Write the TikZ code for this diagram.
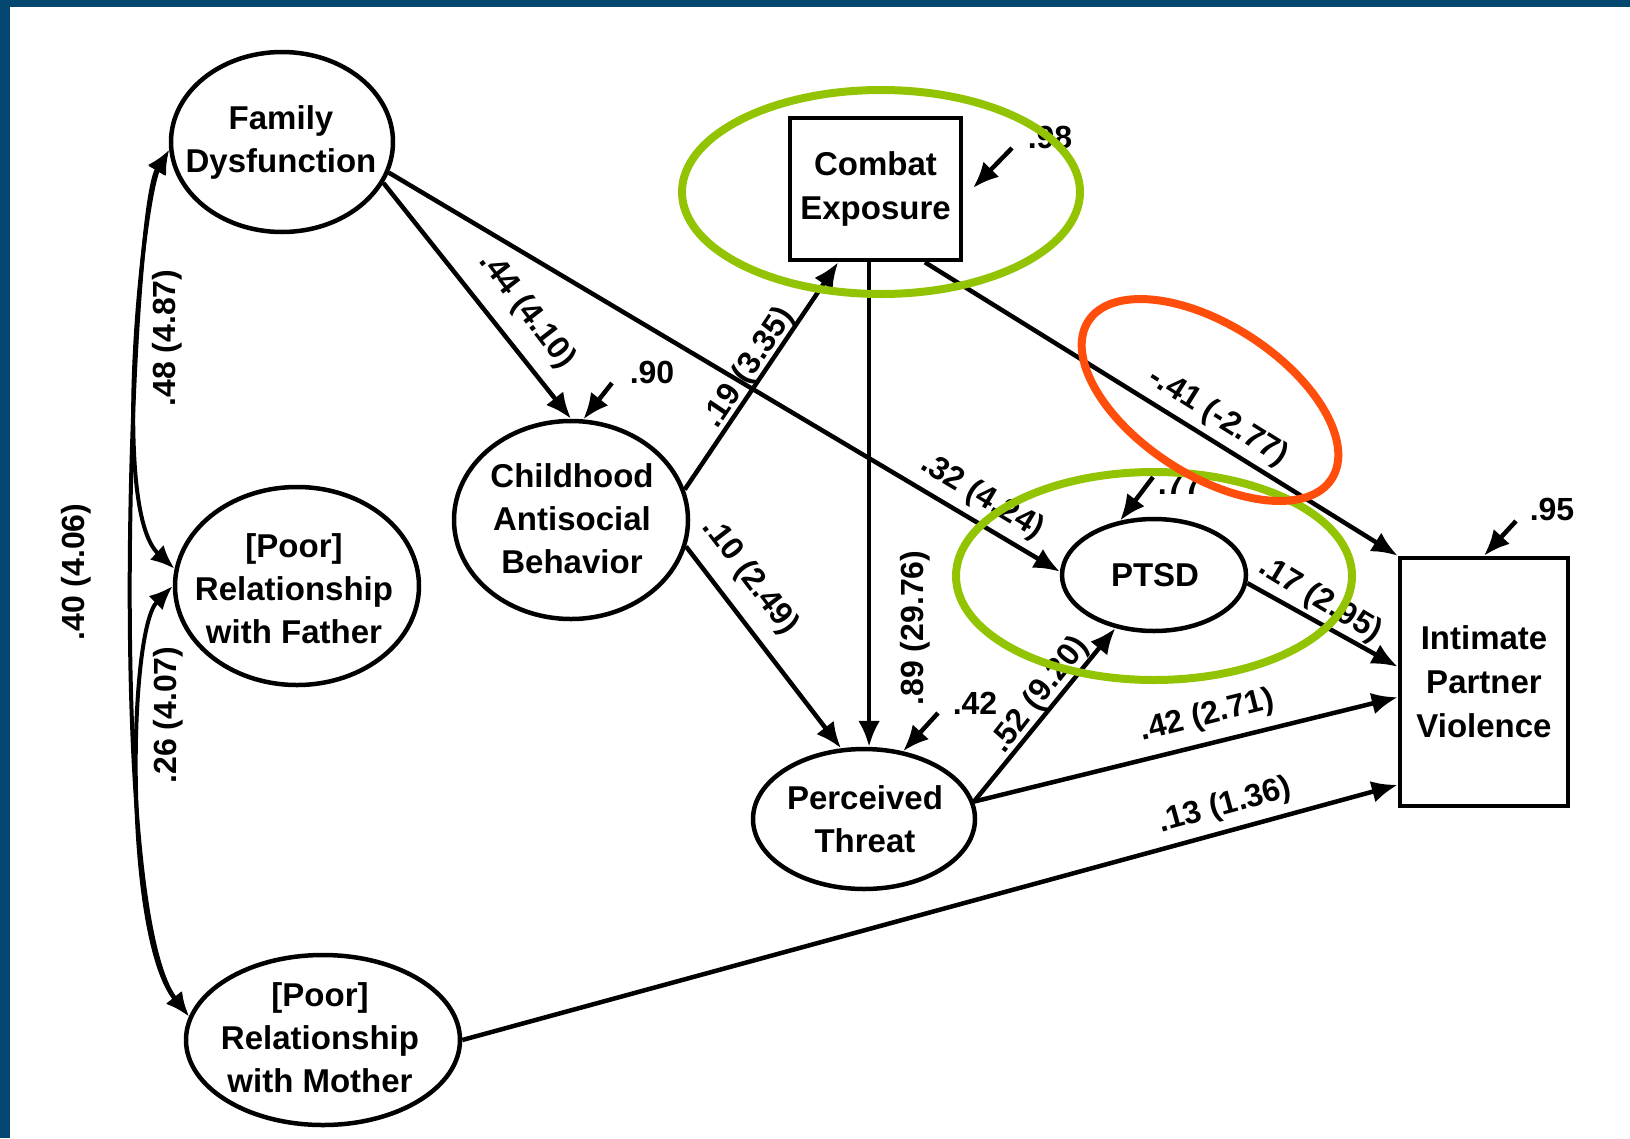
\documentclass[tikz,border=0pt]{standalone}
\usepackage{fontspec}
\setmainfont{Liberation Sans}
\usetikzlibrary{arrows.meta,shapes.geometric,calc}
\definecolor{frameblue}{RGB}{3,71,112}
\definecolor{hlgreen}{RGB}{146,196,4}
\definecolor{hlred}{RGB}{255,78,12}
\begin{document}
\begin{tikzpicture}[x=1pt,y=-1pt,
  ell/.style={draw, ellipse, line width=4.5pt, inner sep=0pt},
  rbox/.style={draw, rectangle, line width=4.5pt, inner sep=0pt, align=center,
     font=\fontsize{33}{44}\selectfont\bfseries},
  txt/.style={font=\fontsize{33}{43}\selectfont\bfseries, align=center, inner sep=0pt},
  lbl/.style={font=\fontsize{32}{36}\selectfont\bfseries, inner sep=0pt},
  conn/.style={line width=4.5pt, -{Latex[length=26pt,width=22pt]}},
  corr/.style={line width=4pt, {Latex[length=24pt,width=20pt]}-{Latex[length=24pt,width=20pt]}},
  hl/.style={line width=8pt}
]
\useasboundingbox (0,0) rectangle (1630,1138);
\fill[frameblue] (0,0) rectangle (1630,7);
\fill[frameblue] (0,0) rectangle (10,1138);

% nodes
\node[ell, minimum width=222pt, minimum height=180pt] (fam) at (282,142) {};
\node[txt] (famt) at (281,142) {Family\\Dysfunction};
\node[ell, minimum width=244pt, minimum height=198pt] (fa) at (297,586) {};
\node[txt] (fat) at (294,589) {[Poor]\\Relationship\\with Father};
\node[ell, minimum width=274pt, minimum height=170pt] (mo) at (323,1040) {};
\node[txt] (mot) at (320,1038) {[Poor]\\Relationship\\with Mother};
\node[ell, minimum width=234pt, minimum height=198pt] (ca) at (571,520) {};
\node[txt] (cat) at (572,519) {Childhood\\Antisocial\\Behavior};
\node[ell, minimum width=222pt, minimum height=140pt] (pt) at (864,819) {};
\node[txt] (ptt) at (865,819) {Perceived\\Threat};
\node[ell, minimum width=184pt, minimum height=112pt] (ps) at (1154,575) {};
\node[txt] (pst) at (1155,575) {PTSD};
\node[rbox, minimum width=171pt, minimum height=142pt] (ce) at (875.5,189) {Combat\\Exposure};
\node[rbox, minimum width=168pt, minimum height=248pt] (ipv) at (1484,682) {Intimate\\Partner\\Violence};

% paths
\draw[conn] (fam.-22) -- (ca.north);
\draw[conn] (fam.-16) -- (ps.178);
\draw[conn] (ca.15) -- (ce.243);
\draw[conn] (ca.-13) -- (pt.108);
\draw[conn] (ce.265) -- (ce.265 |- pt.north);
\draw[conn] (ce.-56) -- (ipv.north west);
\draw[conn] (ps.-5) -- (ipv.170);
\draw[conn] (pt.9) -- (ps.-126);
\draw[conn] (pt.9) -- (ipv.190);
\draw[conn] (mo.east) -- (ipv.230);

% correlations
\draw[corr] (fam.184) .. controls +(-25,45) and +(-65,-60) .. (fa.172);
\draw[corr] (fam.184) .. controls +(-38,60) and +(-85,-110) .. (mo.170);
\draw[corr] (fa.180) .. controls +(-45,45) and +(-65,-80) .. (mo.170);

% residuals
\coordinate (r98) at (1012,148);
\coordinate (r98e) at (973,188);
\draw[conn] (r98) -- (r98e);
\coordinate (r90) at (612,383);
\draw[conn] (r90) -- (ca.83);
\coordinate (r42) at (938,713);
\draw[conn] (r42) -- (pt.60);
\coordinate (r77) at (1153,477);
\draw[conn] (r77) -- (ps.122);
\coordinate (r95) at (1516,521);
\draw[conn] (r95) -- (ipv.north);

% labels
\node[lbl] (l98) at (1050,137) {.98};
\node[lbl] (l90) at (652,372) {.90};
\node[lbl] (l42r) at (975,703) {.42};
\node[lbl] (l77) at (1180,483) {.77};
\node[lbl] (l95) at (1552,509) {.95};

\node[lbl, rotate=-52.4] (l44) at (527,311) {.44 (4.10)};
\node[lbl, rotate=-31] (l32) at (982,497) {.32 (4.24)};
\node[lbl, rotate=56] (l19) at (749,368) {.19 (3.35)};
\node[lbl, rotate=-52.5] (l10) at (750,577) {.10 (2.49)};
\node[lbl, rotate=90] (l89) at (915,628) {.89 (29.76)};
\node[lbl, rotate=-32] (l41) at (1218,417) {-.41 (-2.77)};
\node[lbl, rotate=-31] (l17) at (1320,600) {.17 (2.95)};
\node[lbl, rotate=52] (l52) at (1040,695) {.52 (9.20)};
\node[lbl, rotate=14] (l42) at (1207,716) {.42 (2.71)};
\node[lbl, rotate=15.3] (l13) at (1225,806) {.13 (1.36)};
\node[lbl, rotate=90] (l48) at (167,338) {.48 (4.87)};
\node[lbl, rotate=90] (l26) at (168,715) {.26 (4.07)};
\node[lbl, rotate=90] (l40) at (76,572) {.40 (4.06)};

% highlights
\draw[hlgreen, hl] (881,192) ellipse [x radius=199, y radius=102];
\draw[hlgreen, hl] (1154,576) ellipse [x radius=198, y radius=104];
\draw[hlred, hl, rotate around={-33:(1210,400)}] (1210,400) ellipse [x radius=145, y radius=75];
\end{tikzpicture}
\end{document}
